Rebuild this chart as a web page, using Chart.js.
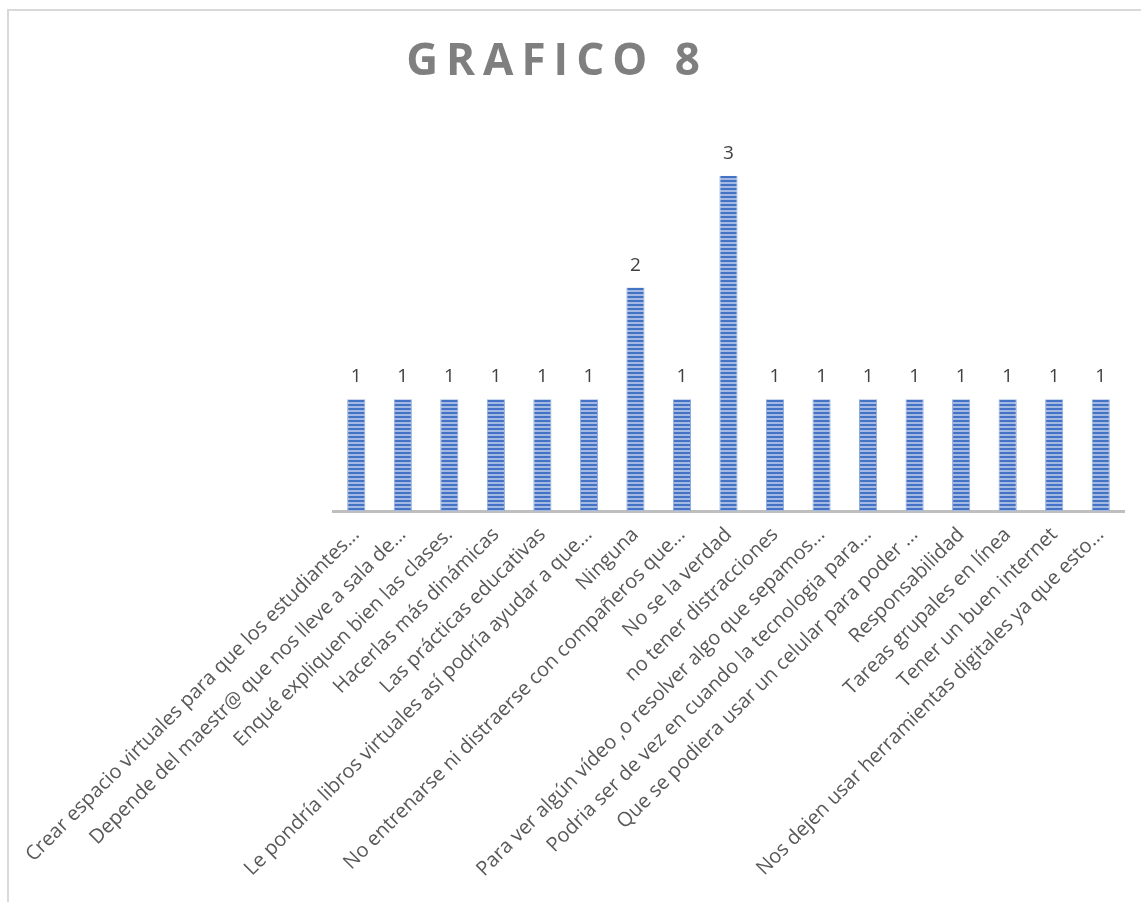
<!DOCTYPE html>
<html>
<head>
<meta charset="utf-8">
<script src="https://cdn.jsdelivr.net/npm/chart.js@4.4.1/dist/chart.umd.min.js"></script>
<style>
  html, body { margin: 0; padding: 0; background: #fff; }
  #wrap { position: relative; width: 1141px; height: 902px; }
  #c { position: absolute; left: 0; top: 0; }
  #frame { position: absolute; left: 7px; top: 9px; right: -5px; bottom: -5px;
           border-left: 2px solid #d9d9d9; border-top: 2px solid #d9d9d9; pointer-events: none; }
</style>
</head>
<body>
<div id="wrap">
  <canvas id="c" width="1141" height="902"></canvas>
  <div id="frame"></div>
</div>
<script>
const chartTitle = 'GRAFICO 8';
const categories = [
  'Crear espacio virtuales para que los estudiantes...',
  'Depende del maestr@ que nos lleve a sala de...',
  'Enqué expliquen bien las clases.',
  'Hacerlas más dinámicas',
  'Las prácticas educativas',
  'Le pondría libros virtuales así podría ayudar a que...',
  'Ninguna',
  'No entrenarse ni distraerse con compañeros que...',
  'No se la verdad',
  'no tener distracciones',
  'Para ver algún vídeo ,o resolver algo que sepamos...',
  'Podria ser de vez en cuando la tecnologia para...',
  'Que se podiera usar un celular para poder ...',
  'Responsabilidad',
  'Tareas grupales en línea',
  'Tener un buen internet',
  'Nos dejen usar herramientas digitales ya que esto...'
];
const values = [1, 1, 1, 1, 1, 1, 2, 1, 3, 1, 1, 1, 1, 1, 1, 1, 1];
const yMax = 3.5;

// striped fill pattern
function makePattern() {
  const p = document.createElement('canvas');
  p.width = 4; p.height = 4;
  const g = p.getContext('2d');
  g.fillStyle = '#4472c4';
  g.fillRect(0, 0, 4, 4);
  g.fillStyle = '#a3b9e4';
  g.fillRect(0, 2, 4, 2);
  return document.getElementById('c').getContext('2d').createPattern(p, 'repeat');
}

const valueLabels = {
  id: 'valueLabels',
  afterDatasetsDraw(chart) {
    const ctx = chart.ctx;
    const meta = chart.getDatasetMeta(0);
    ctx.save();
    ctx.font = '19px "Open Sans"';
    ctx.fillStyle = '#404040';
    ctx.textAlign = 'center';
    ctx.textBaseline = 'alphabetic';
    meta.data.forEach((el, i) => {
      ctx.fillText(String(chart.data.datasets[0].data[i]), el.x, el.y - 17);
    });
    ctx.restore();
  }
};

const spacedTitle = {
  id: 'spacedTitle',
  afterDraw(chart) {
    const ctx = chart.ctx;
    ctx.save();
    ctx.font = 'bold 44px "Open Sans"';
    ctx.fillStyle = '#7f7f7f';
    ctx.textBaseline = 'middle';
    ctx.textAlign = 'left';
    let sp = 0;
    if ('letterSpacing' in ctx) { ctx.letterSpacing = '8px'; sp = 8; }
    const w = ctx.measureText(chartTitle).width - sp;
    ctx.fillText(chartTitle, 553 - w / 2, 62);
    ctx.restore();
  }
};

new Chart(document.getElementById('c'), {
  type: 'bar',
  data: {
    labels: categories,
    datasets: [{
      data: values,
      backgroundColor: makePattern(),
      borderColor: '#8eaadb',
      borderWidth: { left: 1, right: 1, top: 0, bottom: 0 },
      barPercentage: 0.39,
      categoryPercentage: 1.0
    }]
  },
  options: {
    responsive: false,
    animation: false,
    devicePixelRatio: 1,
    layout: { padding: { top: 120, left: 333, right: 17, bottom: 0 } },
    plugins: { legend: { display: false }, title: { display: false }, tooltip: { enabled: false } },
    scales: {
      x: {
        grid: { display: false },
        border: { display: true, color: '#bfbfbf', width: 3 },
        ticks: {
          autoSkip: false, minRotation: 45, maxRotation: 45,
          color: '#595959', font: { family: 'Open Sans', size: 20 }, padding: 4
        },
        afterFit(s) { s.height = 391; s.paddingLeft = 0; s.paddingRight = 0; }
      },
      y: { display: false, min: 0, max: yMax }
    }
  },
  plugins: [valueLabels, spacedTitle]
});
</script>
</body>
</html>
